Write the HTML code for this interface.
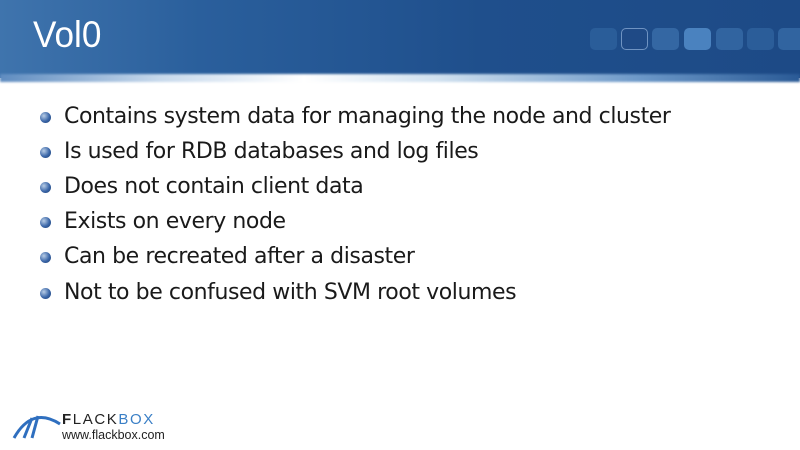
<!DOCTYPE html>
<html><head><meta charset="utf-8"><style>
body{margin:0;width:800px;height:450px;overflow:hidden;background:#fff;font-family:"Liberation Sans",sans-serif;position:relative}
.hdr{position:absolute;left:0;top:0;width:800px;height:78px;background:linear-gradient(90deg,#3f74ad 0%,#2a5f9c 25%,#1f4f8c 60%,#1d4a86 100%)}
.glow{position:absolute;left:0;top:74px;width:800px;height:8px;background:linear-gradient(90deg,#5f8cc0 0%,#c7d9ec 20%,#ffffff 38%,#cfe0ef 55%,#6c98c8 80%,#2a5a96 100%);filter:blur(1px)}
.title{position:absolute;left:33px;top:14px;color:#fff;font-size:37px;font-family:"Liberation Sans Narrow","Liberation Sans",sans-serif;transform:scaleX(.95);transform-origin:left}
.sq{position:absolute;top:28px;width:27px;height:22px;border-radius:5px;background:#2f64a0}
ul{position:absolute;left:0;top:100px;margin:0;padding:0;list-style:none}
li{position:absolute;left:64px;font-size:22px;color:#1a1a1a;white-space:nowrap;font-family:"DejaVu Sans","Liberation Sans",sans-serif;letter-spacing:-0.42px}
li:before{content:"";position:absolute;left:-24px;top:8px;width:11px;height:11px;border-radius:50%;background:radial-gradient(circle at 35% 35%,#b8cde6,#3a66a8 55%,#1c3d70)}
</style></head><body>
<div class="hdr"></div><div class="glow"></div>
<div class="title">Vol0</div>
<div class="sq" style="left:590px;background:#2a5d99"></div>
<div class="sq" style="left:621px;background:#1f4a86;border:1px solid #6f93c2;width:25px;height:20px"></div>
<div class="sq" style="left:652px;background:#3467a3"></div>
<div class="sq" style="left:684px;background:#4a82bf"></div>
<div class="sq" style="left:716px;background:#3164a0"></div>
<div class="sq" style="left:747px;background:#2b5d99"></div>
<div class="sq" style="left:778px;background:#3164a0"></div>
<ul>
<li style="top:4px">Contains system data for managing the node and cluster</li>
<li style="top:39px">Is used for RDB databases and log files</li>
<li style="top:74px">Does not contain client data</li>
<li style="top:109px">Exists on every node</li>
<li style="top:144px">Can be recreated after a disaster</li>
<li style="top:180px">Not to be confused with SVM root volumes</li>
</ul>
<svg style="position:absolute;left:12px;top:410px" width="50" height="30" viewBox="0 0 50 30">
<path d="M2 28 Q20 -4 48 14" stroke="#2f6fbf" stroke-width="3" fill="none"/>
<path d="M12 28 L20 8 M20 28 L26 6" stroke="#2f6fbf" stroke-width="3" fill="none"/>
</svg>
<div style="position:absolute;left:62px;top:411px;font-size:15px;letter-spacing:1.6px;color:#222"><b>F</b>LACK<span style="color:#3a7fc6">BOX</span></div>
<div style="position:absolute;left:62px;top:428px;font-size:12.5px;color:#222">www.flackbox.com</div>
</body></html>
